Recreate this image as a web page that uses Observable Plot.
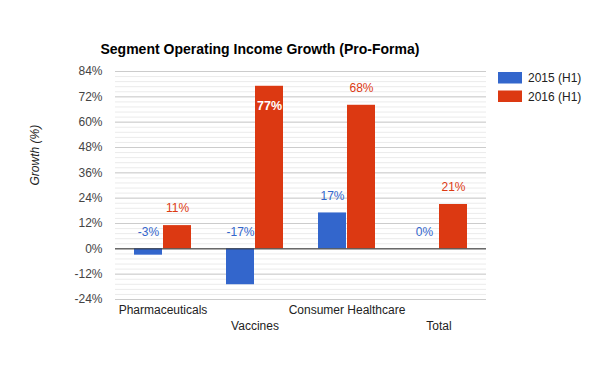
<!DOCTYPE html>
<html>
<head>
<meta charset="utf-8">
<script src="https://cdn.jsdelivr.net/npm/d3@7"></script>
<script src="https://cdn.jsdelivr.net/npm/@observablehq/plot@0.6"></script>
<style>
  html, body { margin: 0; padding: 0; background: #fff; }
  #chart svg { display: block; font-family: "Liberation Sans", Arial, sans-serif; }
</style>
</head>
<body>
<div id="chart"></div>
<script>
const categories = ["Pharmaceuticals", "Vaccines", "Consumer Healthcare", "Total"];
const series = ["2015 (H1)", "2016 (H1)"];
const values2015 = [-3, -17, 17, 0];
const values2016 = [11, 77, 68, 21];
const yTicks = [-24, -12, 0, 12, 24, 36, 48, 60, 72, 84];
const colors = ["#3366cc", "#dc3912"];
const title = "Segment Operating Income Growth (Pro-Forma)";
const yLabel = "Growth (%)";

const minorTicks = d3.range(0, 46).map(i => -24 + i * 2.4);

const rows = [];
categories.forEach((c, i) => {
  rows.push({category: c, series: series[0], value: values2015[i], idx: i});
  rows.push({category: c, series: series[1], value: values2016[i], idx: i});
});
const r2015 = rows.filter(d => d.series === series[0]);
const r2016 = rows.filter(d => d.series === series[1]);
const yMax = yTicks[yTicks.length - 1];
const fitsAbove = d => d.value + 8 <= yMax;

const xOpts = {domain: categories, paddingInner: 0.385, paddingOuter: 0.1925, axis: null};

const chart = Plot.plot({
  width: 600,
  height: 371,
  marginLeft: 115,
  marginRight: 114,
  marginTop: 71,
  marginBottom: 72,
  style: {fontFamily: "'Liberation Sans', Arial, sans-serif", fontSize: "12px", color: "#444"},
  x: xOpts,
  y: {domain: [-24, 84], ticks: yTicks, tickFormat: d => d + "%", tickSize: 0, tickPadding: 13, label: null},
  marks: [
    Plot.ruleY(minorTicks, {stroke: "#ebebeb", strokeWidth: 1}),
    Plot.ruleY(yTicks, {stroke: "#cccccc", strokeWidth: 1}),
    Plot.barY(r2015, {x: "category", y: "value", fill: colors[0], insetLeft: 0, insetRight: 29}),
    Plot.barY(r2016, {x: "category", y: "value", fill: colors[1], insetLeft: 29, insetRight: 0}),
    Plot.ruleY([0], {stroke: "#333333", strokeWidth: 1}),
    Plot.text(r2015.filter(fitsAbove), {x: "category", y: d => Math.max(d.value, 0), text: d => d.value + "%", dx: -14.5, dy: -17, fill: colors[0], fontSize: 12}),
    Plot.text(r2016.filter(fitsAbove), {x: "category", y: d => Math.max(d.value, 0), text: d => d.value + "%", dx: 14.5, dy: -17, fill: colors[1], fontSize: 12}),
    Plot.text(r2016.filter(d => !fitsAbove(d)), {x: "category", y: "value", text: d => d.value + "%", dx: 14.5, dy: 20, fill: "white", stroke: colors[1], strokeWidth: 1.5, fontSize: 12.5, fontWeight: "bold"}),
    Plot.text(categories.filter((c, i) => i % 2 === 0), {x: d => d, text: d => d, frameAnchor: "bottom", dy: 14, fill: "#222", fontSize: 12}),
    Plot.text(categories.filter((c, i) => i % 2 === 1), {x: d => d, text: d => d, frameAnchor: "bottom", dy: 30, fill: "#222", fontSize: 12}),
    Plot.text([yLabel], {frameAnchor: "left", text: d => d, rotate: -90, dx: -80, fill: "#222", fontSize: 12, fontStyle: "italic"}),
    Plot.text([title], {frameAnchor: "top-left", text: d => d, textAnchor: "start", dx: -15, dy: -27, fill: "#000", fontSize: 14, fontWeight: "bold"})
  ]
});

document.getElementById("chart").appendChild(chart);

// legend
const svg = d3.select(chart);
const lg = svg.append("g")
  .attr("font-family", "'Liberation Sans', Arial, sans-serif")
  .attr("font-size", 12)
  .attr("text-anchor", "start");
series.forEach((s, i) => {
  lg.append("rect").attr("x", 498).attr("y", 72 + i * 18.5).attr("width", 24).attr("height", 11.5).attr("fill", colors[i]);
  lg.append("text").attr("x", 528).attr("y", 78 + i * 18.5).attr("dy", "0.35em").attr("fill", "#222").text(s);
});
</script>
</body>
</html>
